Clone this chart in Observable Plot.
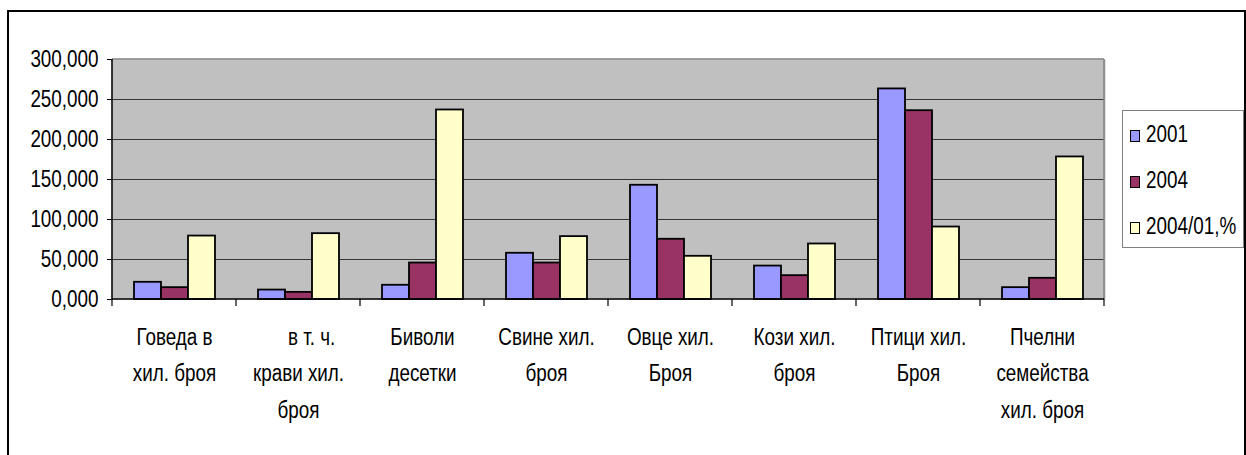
<!DOCTYPE html>
<html>
<head>
<meta charset="utf-8">
<script src="https://cdn.jsdelivr.net/npm/d3@7"></script>
<script src="https://cdn.jsdelivr.net/npm/@observablehq/plot@0.6"></script>
<style>
  html, body { margin: 0; padding: 0; background: #fff; }
  body { width: 1246px; height: 455px; overflow: hidden; position: relative;
         font-family: "Liberation Sans", Arial, sans-serif; }
  #frame { position: absolute; left: 7px; top: 10px; width: 1239px; height: 470px;
           border: 2px solid #000; box-sizing: border-box; pointer-events: none; }
  #chart { position: absolute; left: 0; top: 0; }
  #legend { position: absolute; left: 1122px; top: 110px; width: 122px; height: 138px;
            border: 1px solid #808080; box-sizing: border-box; background: #fff; }
  .row { height: 46px; display: flex; align-items: center; font-size: 23px; color: #000; white-space: nowrap; }
  .sw { flex: none; width: 8px; height: 10px; border: 1.5px solid #000; margin-left: 7px; margin-right: 6px; margin-top: 4px; }
  .lbl { display: inline-block; transform: scaleX(0.82); transform-origin: 0 50%; }
</style>
</head>
<body>
<div id="chart"></div>
<div id="frame"></div>
<div id="legend"></div>
<script>
// ---- data ----
const categories = [
  "Говеда в\nхил. броя",
  "\u00a0\u00a0\u00a0\u00a0\u00a0в т. ч.\nкрави хил.\nброя",
  "Биволи\nдесетки",
  "Свине хил.\nброя",
  "Овце хил.\nБроя",
  "Кози хил.\nброя",
  "Птици хил.\nБроя",
  "Пчелни\nсемейства\nхил. броя"
];
const series = ["2001", "2004", "2004/01,%"];
const values2001 = [21.5, 11.8, 17.8, 57.8, 142.8, 41.8, 263.2, 14.8];
const values2004 = [14.8, 8.9, 45.6, 45.6, 75.3, 29.8, 236.0, 26.5];
const valuesRatio = [79.3, 82.3, 236.9, 78.6, 54.0, 69.4, 90.6, 178.2];
const seriesColors = ["#9999FF", "#993366", "#FFFFCC"];
const yTicks = [0, 50, 100, 150, 200, 250, 300];

// ---- table built from the arrays ----
const seriesValues = [values2001, values2004, valuesRatio];
const data = [];
categories.forEach((c, i) => {
  series.forEach((s, j) => data.push({category: c, series: s, value: seriesValues[j][i]}));
});

const fmt = d3.formatLocale({decimal: ",", thousands: "\u00a0", grouping: [3], currency: ["", ""]}).format(".3f");
const font = '"Liberation Sans", Arial, sans-serif';
const narrow = 0.82; // Arial Narrow look

const chart = Plot.plot({
  width: 1246,
  height: 455,
  marginLeft: 112,
  marginRight: 142,
  marginTop: 59,
  marginBottom: 156,
  style: {fontFamily: font, fontSize: "23px", background: "transparent", overflow: "visible"},
  fx: {domain: categories, padding: 0, label: null},
  x: {domain: series, paddingInner: 0, paddingOuter: 0.74, axis: null},
  y: {domain: [0, 300], label: null},
  color: {domain: series, range: seriesColors},
  marks: [
    Plot.frame({fill: "#C0C0C0", stroke: null, insetLeft: -1, insetRight: -1}),
    Plot.gridY(yTicks.filter(t => t > 0 && t < 300), {stroke: "#000", strokeOpacity: 0.72, strokeWidth: 1}),
    Plot.barY(data, {fx: "category", x: "series", y: "value", fill: "series", stroke: "#000", strokeWidth: 1.8}),
    Plot.axisY(yTicks, {tickFormat: fmt, tickSize: 5, tickPadding: 9, fontSize: 23, stroke: "#000", fill: "#000", label: null}),
    Plot.axisFx({anchor: "bottom", tickSize: 0, tickPadding: 19, fontSize: 23, lineHeight: 1.6, fill: "#000", label: null})
  ]
});

document.getElementById("chart").appendChild(chart);

// condense every text horizontally around its anchor
chart.querySelectorAll("text").forEach(el => {
  const bb = el.getBBox();
  const anchor = getComputedStyle(el).textAnchor;
  const ax = anchor === "middle" ? bb.x + bb.width / 2 : anchor === "end" ? bb.x + bb.width : bb.x;
  const t = el.getAttribute("transform") || "";
  el.setAttribute("transform", `${t} translate(${ax},0) scale(${narrow},1) translate(${-ax},0)`);
});

// plot-area border, axis lines and group boundary ticks, from the Plot scales
const fx = chart.scale("fx");
const y = chart.scale("y");
const svg = d3.select(chart);
const r0 = fx.range[0], r1 = fx.range[1];
const yTop = y.apply(300), yBot = y.apply(0);
const g = svg.append("g");
g.append("line").attr("x1", r0).attr("x2", r1).attr("y1", yTop).attr("y2", yTop).attr("stroke", "#808080").attr("stroke-width", 1.5);
g.append("line").attr("x1", r1).attr("x2", r1).attr("y1", yTop).attr("y2", yBot).attr("stroke", "#808080").attr("stroke-width", 1.5);
g.append("line").attr("x1", r0).attr("x2", r0).attr("y1", yTop).attr("y2", yBot + 0.75).attr("stroke", "#000").attr("stroke-width", 1.5);
g.append("line").attr("x1", r0).attr("x2", r1).attr("y1", yBot).attr("y2", yBot).attr("stroke", "#000").attr("stroke-width", 1.5);
const bounds = categories.map(c => fx.apply(c)).concat([r1]);
bounds.forEach(b => {
  g.append("line").attr("x1", b).attr("x2", b).attr("y1", yBot).attr("y2", yBot + 7).attr("stroke", "#000").attr("stroke-width", 1.2);
});

// legend
const legend = d3.select("#legend");
series.forEach((s, i) => {
  const row = legend.append("div").attr("class", "row");
  row.append("div").attr("class", "sw").style("background", seriesColors[i]);
  row.append("span").attr("class", "lbl").text(s);
});
</script>
</body>
</html>
